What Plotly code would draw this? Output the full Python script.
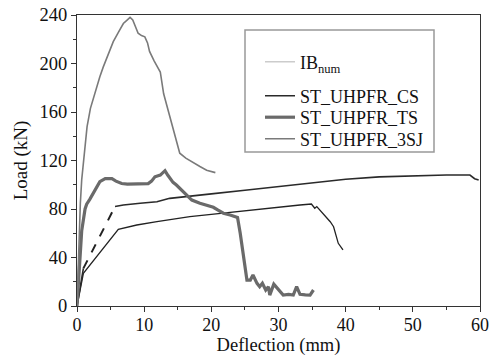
import plotly.graph_objects as go

# ---- data ----
sj3_x = [0, 0.15, 0.3, 0.5, 0.7, 1.0, 1.5, 2.0, 2.4, 2.83, 3.4, 3.9, 4.6, 5.4, 6.2, 6.9, 7.5, 7.9,
         8.3, 8.7, 9.1, 9.6, 10.1, 10.5, 10.8, 11.5, 12.4, 12.9, 13.4, 13.8, 14.6, 15.3, 16.2, 17.3,
         18.3, 19.3, 20.6]
sj3_y = [0, 30, 60, 85, 104, 122, 148, 163, 171, 179.5, 189, 197, 207, 218, 226, 233, 236, 238,
         236, 230, 225, 223, 222, 217, 210, 202, 193, 175, 165, 156, 142, 126, 122, 118,
         115, 112, 110]

ts_x = [0, 0.15, 0.3, 0.55, 0.7, 1.2, 1.44, 1.9, 2.4, 2.9, 3.4, 4.2, 5.2, 5.8, 6.65, 7.5, 8.4, 9.5,
        10.6, 11.1, 11.6, 12.4, 13.1, 13.5, 13.85, 14.3, 14.8, 15.3, 15.8, 16.5, 17.1, 18.3, 19.3,
        20.3, 21.0, 21.8, 22.8, 23.5, 23.9, 24.3, 24.8, 25.3, 25.8, 26.2, 26.8, 27.2, 27.6, 28.1,
        28.5, 28.7, 29.3, 30.0, 30.7, 31.5, 32.2, 32.7, 33.2, 34.0, 34.7, 35.2]
ts_y = [0, 12, 25, 46, 62, 80, 84, 88, 93, 98, 102.5, 105, 105, 103, 101, 100.5, 100.6, 101,
        101, 103, 106.6, 108, 111.6, 108, 105, 102, 99.8, 97, 94.3, 90, 87.4, 84.7, 83,
        81.4, 79, 76.5, 75, 74, 73, 60, 40.7, 21.4, 21.4, 25.6, 18.7, 15.9, 18.7, 13.2,
        15.9, 9, 18, 13.2, 9, 9.5, 9, 15.9, 9.6, 9.2, 9, 13.2]

cs_x = [0, 0.95, None, 5.66, 6.9, 9.4, 11.9, 13.8, 16.6, 20, 25, 30, 35, 40, 45, 50, 55, 58.5, 59.2, 59.8]
cs_y = [0, 31, None, 82, 83.3, 84.7, 86, 88.8, 90.7, 92.5, 95.5, 98.5, 101.5, 104.5, 106.5, 107.5, 108, 108, 105, 104]
cs_gap_x = [0.95, 5.66]
cs_gap_y = [31, 82]

low_x = [0, 0.95, 6.15, 8.9, 11.9, 16.8, 20, 25, 30, 33.2, 34.9, 35.4, 35.7, 36.9, 37.7, 38.2, 38.9, 39.6]
low_y = [0, 27, 63.2, 66.8, 69.5, 73.7, 75.5, 78.6, 81.5, 83.3, 84.1, 80.6, 82, 75, 69.5, 65.4, 51.7, 46.2]

x_ticks = [0, 10, 20, 30, 40, 50, 60]
y_ticks = [0, 40, 80, 120, 160, 200, 240]

FONT = "Liberation Serif, Times New Roman, serif"

fig = go.Figure()

fig.add_trace(go.Scatter(x=[None], y=[None], mode="lines", name="IB<sub>num</sub>",
                         line=dict(color="#cccccc", width=1.5), legend="legend"))
fig.add_trace(go.Scatter(x=low_x, y=low_y, mode="lines", showlegend=False,
                         line=dict(color="#222222", width=1.3)))
fig.add_trace(go.Scatter(x=cs_gap_x, y=cs_gap_y, mode="lines", showlegend=False,
                         line=dict(color="#222222", width=2, dash="dash")))
fig.add_trace(go.Scatter(x=cs_x, y=cs_y, mode="lines", name="ST_UHPFR_CS", connectgaps=False,
                         line=dict(color="#2a2a2a", width=1.6), legend="legend2"))
fig.add_trace(go.Scatter(x=ts_x, y=ts_y, mode="lines", name="ST_UHPFR_TS",
                         line=dict(color="#6a6a6a", width=3.2), legend="legend3"))
fig.add_trace(go.Scatter(x=sj3_x, y=sj3_y, mode="lines", name="ST_UHPFR_3SJ",
                         line=dict(color="#7a7a7a", width=1.6), legend="legend4"))

W, H = 490, 363
L, R, T, B = 77, 10, 15, 57
pw, ph = W - L - R, H - T - B

def px(xp):
    return (xp - L) / pw

def py(yp):
    return (H - B - yp) / ph

leg_common = dict(xanchor="left", yanchor="middle", bgcolor="rgba(0,0,0,0)",
                  borderwidth=0, font=dict(family=FONT, size=18, color="#111"))

fig.update_layout(
    width=W, height=H,
    margin=dict(l=L, r=R, t=T, b=B, autoexpand=False),
    paper_bgcolor="white", plot_bgcolor="white",
    font=dict(family=FONT, size=18, color="#111"),
    legend=dict(x=px(260), y=py(62), **leg_common),
    legend2=dict(x=px(260), y=py(96), **leg_common),
    legend3=dict(x=px(260), y=py(117.5), **leg_common),
    legend4=dict(x=px(260), y=py(139), **leg_common),
    shapes=[dict(type="rect", xref="paper", yref="paper",
                 x0=px(245), x1=px(434), y0=py(152), y1=py(30),
                 line=dict(color="#999999", width=1.5), fillcolor="rgba(0,0,0,0)")],
    xaxis=dict(range=[0, 60], tickvals=x_ticks, ticks="outside", ticklen=5, tickwidth=1.2,
               tickcolor="#333", showline=True, linecolor="#333", linewidth=1.3, mirror=True,
               showgrid=False, zeroline=False, automargin=False, ticklabelstandoff=-3,
               ticklabeloverflow="allow",
               minor=dict(dtick=5, ticks="outside", ticklen=3, tickcolor="#333", showgrid=False),
               title=dict(text="Deflection (mm)", font=dict(family=FONT, size=18.5), standoff=2),
               tickfont=dict(family=FONT, size=18)),
    yaxis=dict(range=[0, 240], tickvals=y_ticks, ticks="outside", ticklen=5, tickwidth=1.2,
               tickcolor="#333", showline=True, linecolor="#333", linewidth=1.3, mirror=True,
               showgrid=False, zeroline=False, automargin=False, ticklabeloverflow="allow",
               minor=dict(dtick=20, ticks="outside", ticklen=3, tickcolor="#333", showgrid=False),
               title=dict(text="Load (kN)", font=dict(family=FONT, size=19), standoff=6),
               tickfont=dict(family=FONT, size=18.5)),
)

# remove the browser's default 8 px body margin so the figure fills the window exactly
fig.write_html("out.html", config={"displayModeBar": False},
               post_script="document.body.style.margin='0';document.body.style.overflow='hidden';")
